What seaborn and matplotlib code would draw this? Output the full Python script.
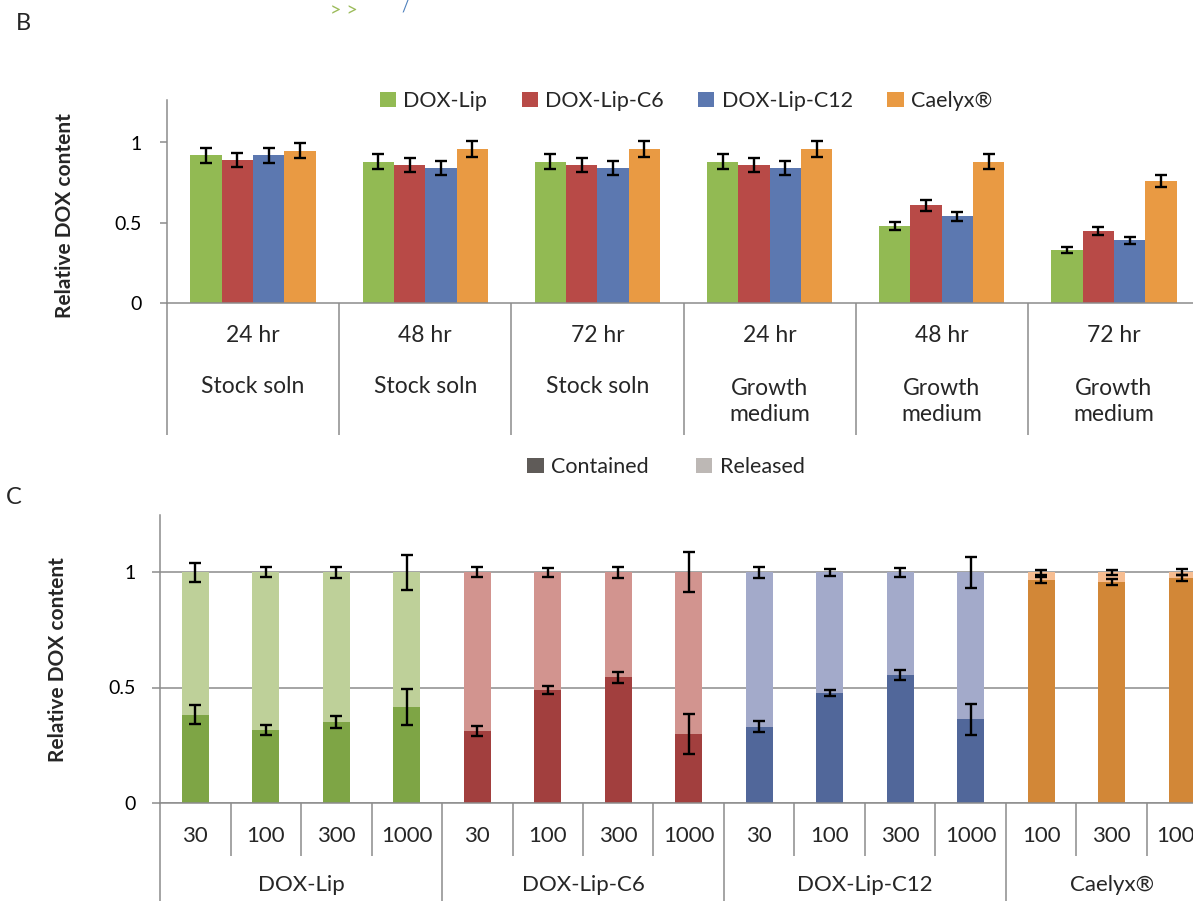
import numpy as np
import pandas as pd
import matplotlib
matplotlib.use("Agg")
import matplotlib.pyplot as plt
import seaborn as sns
from matplotlib.patches import Patch
from matplotlib.ticker import FixedLocator, FixedFormatter, NullFormatter

# ---------------- data: panel B ----------------
formulations = ["DOX-Lip", "DOX-Lip-C6", "DOX-Lip-C12", "Caelyx®"]
b_times = ["24 hr", "48 hr", "72 hr", "24 hr", "48 hr", "72 hr"]
b_media = ["Stock soln", "Stock soln", "Stock soln",
           "Growth\nmedium", "Growth\nmedium", "Growth\nmedium"]
b_dox_lip = [0.92, 0.88, 0.88, 0.88, 0.48, 0.33]
b_dox_lip_c6 = [0.89, 0.86, 0.86, 0.86, 0.61, 0.45]
b_dox_lip_c12 = [0.92, 0.84, 0.84, 0.84, 0.54, 0.39]
b_caelyx = [0.95, 0.96, 0.96, 0.96, 0.88, 0.76]
b_err_dox_lip = [0.048, 0.046, 0.046, 0.046, 0.026, 0.018]
b_err_dox_lip_c6 = [0.045, 0.045, 0.045, 0.045, 0.034, 0.025]
b_err_dox_lip_c12 = [0.048, 0.043, 0.043, 0.043, 0.029, 0.021]
b_err_caelyx = [0.049, 0.049, 0.049, 0.049, 0.048, 0.038]

# ---------------- data: panel C ----------------
c_formulation = ["DOX-Lip"] * 4 + ["DOX-Lip-C6"] * 4 + ["DOX-Lip-C12"] * 4 + ["Caelyx®"] * 3
c_conc = ["30", "100", "300", "1000", "30", "100", "300", "1000",
          "30", "100", "300", "1000", "100", "300", "1000"]
c_contained = [0.382, 0.317, 0.350, 0.416, 0.311, 0.489, 0.544, 0.298,
               0.330, 0.476, 0.554, 0.363, 0.967, 0.957, 0.977]
c_total = [1.0] * 15
c_err_contained = [0.040, 0.022, 0.025, 0.077, 0.022, 0.019, 0.024, 0.086,
                   0.025, 0.015, 0.020, 0.067, 0.012, 0.012, 0.013]
c_err_total = [0.040, 0.022, 0.025, 0.077, 0.021, 0.019, 0.025, 0.087,
               0.025, 0.016, 0.020, 0.068, 0.010, 0.010, 0.013]

# ---------------- colours ----------------
top_colors = ["#92BA53", "#B84A47", "#5C78B0", "#E99A43"]
contained_colors = ["#7EA545", "#A23F3E", "#51679A", "#D28737"]
released_colors = ["#BED099", "#D2948F", "#A3AACA", "#F6BD91"]
axis_gray = "#8C8C8C"

sns.set_theme(style="white")
plt.rcParams["font.family"] = ["Lato", "DejaVu Sans"]
plt.rcParams["axes.linewidth"] = 1.1

fig = plt.figure(figsize=(11.93, 9.01), dpi=100)
W, H = 1193.0, 901.0

def px_axes(left, zero_y, right, top_y):
    return fig.add_axes([left / W, (H - zero_y) / H, (right - left) / W, (zero_y - top_y) / H])

EB = dict(fmt="none", ecolor="black", elinewidth=1.7, capsize=4.6, capthick=1.7, zorder=5)

# ================= Panel B =================
axB = px_axes(167, 303, 1200, 100)
condB = [f"{t}|{m}|{i}" for i, (t, m) in enumerate(zip(b_times, b_media))]
dfB = pd.DataFrame({
    "cond": condB * 4,
    "form": np.repeat(formulations, 6),
    "value": b_dox_lip + b_dox_lip_c6 + b_dox_lip_c12 + b_caelyx,
})
sns.barplot(data=dfB, x="cond", y="value", hue="form", hue_order=formulations,
            palette=top_colors, saturation=1, width=0.728, gap=0, errorbar=None,
            linewidth=0, ax=axB, legend=False)
errsB = [b_err_dox_lip, b_err_dox_lip_c6, b_err_dox_lip_c12, b_err_caelyx]
for cont, errs in zip(axB.containers, errsB):
    xs = [b.get_x() + b.get_width() / 2 for b in cont]
    ys = [b.get_height() for b in cont]
    axB.errorbar(xs, ys, yerr=errs, **EB)

axB.set_xlim(-0.5, 5.5)
axB.set_ylim(0, 203 / 160.5)
axB.set_xlabel("")
axB.set_ylabel("Relative DOX content", fontsize=15, fontweight="bold")
axB.yaxis.set_label_coords((75 - 167) / 1033, (303 - 216) / 203)
axB.yaxis.set_major_locator(FixedLocator([0, 0.5, 1]))
axB.yaxis.set_major_formatter(FixedFormatter(["0", "0.5", "1"]))
axB.xaxis.set_major_locator(FixedLocator(np.arange(-0.5, 6, 1.0)))
axB.xaxis.set_major_formatter(NullFormatter())
axB.tick_params(axis="x", which="major", direction="out", length=95, width=1.1,
                color=axis_gray, bottom=True)
axB.tick_params(axis="y", direction="out", length=5, width=1.1, color=axis_gray,
                left=True, pad=13, labelsize=14, labelcolor="black")
for s in ["top", "right"]:
    axB.spines[s].set_visible(False)
for s in ["left", "bottom"]:
    axB.spines[s].set_color(axis_gray)
axB.grid(False)
xtr = axB.get_xaxis_transform()
for i, (t, m) in enumerate(zip(b_times, b_media)):
    axB.annotate(t, xy=(i, 0), xycoords=xtr, xytext=(0, -23.5), textcoords="offset points",
                 ha="center", va="center", fontsize=16.5, annotation_clip=False)
    off = -60 if "\n" not in m else -71
    axB.annotate(m, xy=(i, 0), xycoords=xtr, xytext=(0, off), textcoords="offset points",
                 ha="center", va="center", fontsize=16.5, linespacing=1.3,
                 annotation_clip=False)

handlesB = [Patch(facecolor=c, edgecolor="none", label=f) for c, f in zip(top_colors, formulations)]
fig.legend(handles=handlesB, loc="center", bbox_to_anchor=(686 / W, 1 - 101 / H), ncol=4,
           frameon=False, fontsize=15.5, handlelength=0.75, handleheight=0.75,
           handletextpad=0.35, columnspacing=1.6)

# ================= Panel C =================
axC = px_axes(160, 802.7, 160 + 15 * 70.5, 515)
keysC = [f"{f}|{c}" for f, c in zip(c_formulation, c_conc)]
dfC = pd.DataFrame({"key": keysC, "form": c_formulation,
                    "total": c_total, "contained": c_contained})
sns.barplot(data=dfC, x="key", y="total", hue="form", hue_order=formulations,
            palette=released_colors, saturation=1, dodge=False, width=0.38, errorbar=None,
            linewidth=0, ax=axC, legend=False)
n_rel = len(axC.patches)
sns.barplot(data=dfC, x="key", y="contained", hue="form", hue_order=formulations,
            palette=contained_colors, saturation=1, dodge=False, width=0.38, errorbar=None,
            linewidth=0, ax=axC, legend=False)
rel_bars = sorted(axC.patches[:n_rel], key=lambda p: p.get_x())
con_bars = sorted(axC.patches[n_rel:], key=lambda p: p.get_x())
axC.errorbar([b.get_x() + b.get_width() / 2 for b in rel_bars],
             [b.get_height() for b in rel_bars], yerr=c_err_total, **EB)
axC.errorbar([b.get_x() + b.get_width() / 2 for b in con_bars],
             [b.get_height() for b in con_bars], yerr=c_err_contained, **EB)

axC.set_xlim(-0.5, 14.5)
axC.set_ylim(0, 287.7 / 230.4)
axC.set_xlabel("")
axC.set_ylabel("Relative DOX content", fontsize=15, fontweight="bold")
axC.yaxis.set_label_coords((68 - 160) / 1057.5, (802.7 - 660) / 287.7)
axC.yaxis.set_major_locator(FixedLocator([0, 0.5, 1]))
axC.yaxis.set_major_formatter(FixedFormatter(["0", "0.5", "1"]))
axC.set_axisbelow(True)
axC.yaxis.grid(True, color=axis_gray, linewidth=1.1)
axC.xaxis.grid(False)
group_bounds = [-0.5, 3.5, 7.5, 11.5, 14.5]
inner_bounds = [b + 0.5 for b in range(14) if (b + 0.5) not in group_bounds]
axC.xaxis.set_major_locator(FixedLocator(group_bounds))
axC.xaxis.set_minor_locator(FixedLocator(inner_bounds))
axC.xaxis.set_major_formatter(NullFormatter())
axC.xaxis.set_minor_formatter(NullFormatter())
axC.tick_params(axis="x", which="major", direction="out", length=80, width=1.1,
                color=axis_gray, bottom=True)
axC.tick_params(axis="x", which="minor", direction="out", length=38, width=1.1,
                color=axis_gray, bottom=True)
axC.tick_params(axis="y", direction="out", length=5.5, width=1.1, color=axis_gray,
                left=True, pad=12, labelsize=14, labelcolor="black")
for s in ["top", "right"]:
    axC.spines[s].set_visible(False)
for s in ["left", "bottom"]:
    axC.spines[s].set_color(axis_gray)
xtrC = axC.get_xaxis_transform()
for i, c in enumerate(c_conc):
    axC.annotate(c, xy=(i, 0), xycoords=xtrC, xytext=(0, -24), textcoords="offset points",
                 ha="center", va="center", fontsize=16, annotation_clip=False)
group_centers = [1.5, 5.5, 9.5, 13.0]
for name, cx in zip(formulations, group_centers):
    axC.annotate(name, xy=(cx, 0), xycoords=xtrC, xytext=(0, -59.5), textcoords="offset points",
                 ha="center", va="center", fontsize=16, annotation_clip=False)

handlesC = [Patch(facecolor="#5F5B58", edgecolor="none", label="Contained"),
            Patch(facecolor="#BDB8B5", edgecolor="none", label="Released")]
fig.legend(handles=handlesC, loc="center", bbox_to_anchor=(666 / W, 1 - 467 / H), ncol=2,
           frameon=False, fontsize=15.5, handlelength=0.75, handleheight=0.75,
           handletextpad=0.35, columnspacing=2.2)

# panel letters and stray marks from the neighbouring panel
fig.text(23 / W, 1 - 24 / H, "B", fontsize=17, ha="center", va="center")
fig.text(14 / W, 1 - 497 / H, "C", fontsize=17, ha="center", va="center")
fig.text(344 / W, 1 - 11 / H, "> >", fontsize=14, color="#9BBB59",
         ha="center", va="center")
fig.text(405 / W, 1 - 6 / H, "/", fontsize=12, color="#4F81BD", ha="center", va="center")

fig.savefig("out.png", dpi=100)
